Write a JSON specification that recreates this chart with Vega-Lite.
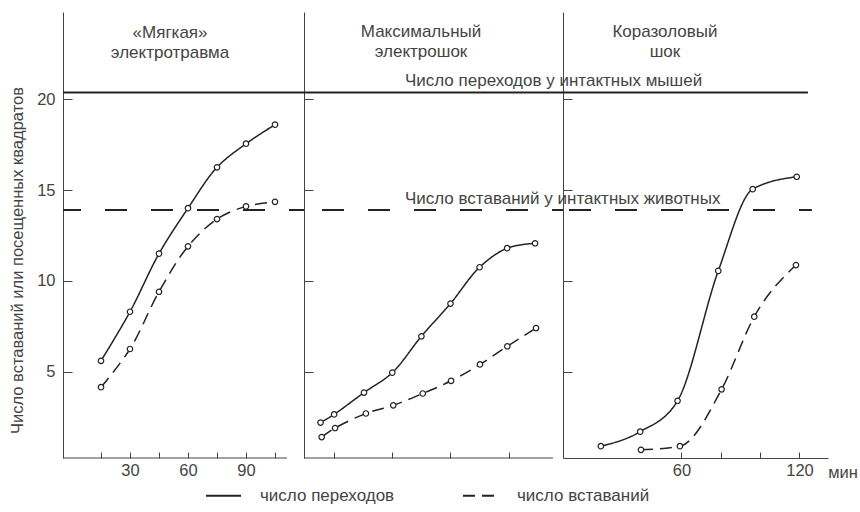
{
  "$schema": "https://vega.github.io/schema/vega-lite/v6.json",
  "padding": {"left": 9, "top": 12, "right": 0, "bottom": 0},
  "config": {
    "view": {"stroke": null},
    "font": "Liberation Sans",
    "axis": {"grid": false, "domainColor": "#444", "tickColor": "#444", "labelColor": "#444", "labelFont": "Liberation Sans", "labelFontSize": 16.5, "titleFont": "Liberation Sans", "titleFontWeight": "normal", "titleColor": "#444", "titleFontSize": 16.5, "domainWidth": 1, "tickWidth": 1},
    "text": {"font": "Liberation Sans", "fontSize": 17, "color": "#444"}
  },
  "datasets": {
    "pts": [
      {"panel": "A", "series": "число переходов", "t": 15, "v": 5.6},
      {"panel": "A", "series": "число переходов", "t": 30, "v": 8.3},
      {"panel": "A", "series": "число переходов", "t": 45, "v": 11.5},
      {"panel": "A", "series": "число переходов", "t": 60, "v": 14.0},
      {"panel": "A", "series": "число переходов", "t": 75, "v": 16.25},
      {"panel": "A", "series": "число переходов", "t": 90, "v": 17.55},
      {"panel": "A", "series": "число переходов", "t": 105, "v": 18.6},
      {"panel": "A", "series": "число вставаний", "t": 15, "v": 4.15},
      {"panel": "A", "series": "число вставаний", "t": 30, "v": 6.25},
      {"panel": "A", "series": "число вставаний", "t": 45, "v": 9.4},
      {"panel": "A", "series": "число вставаний", "t": 60, "v": 11.9},
      {"panel": "A", "series": "число вставаний", "t": 75, "v": 13.4},
      {"panel": "A", "series": "число вставаний", "t": 90, "v": 14.1},
      {"panel": "A", "series": "число вставаний", "t": 105, "v": 14.35},
      {"panel": "B", "series": "число переходов", "t": 8, "v": 2.2},
      {"panel": "B", "series": "число переходов", "t": 15, "v": 2.65},
      {"panel": "B", "series": "число переходов", "t": 30.4, "v": 3.85},
      {"panel": "B", "series": "число переходов", "t": 45, "v": 4.95},
      {"panel": "B", "series": "число переходов", "t": 60, "v": 6.95},
      {"panel": "B", "series": "число переходов", "t": 75, "v": 8.75},
      {"panel": "B", "series": "число переходов", "t": 90, "v": 10.75},
      {"panel": "B", "series": "число переходов", "t": 104.2, "v": 11.8},
      {"panel": "B", "series": "число переходов", "t": 118.6, "v": 12.07},
      {"panel": "B", "series": "число вставаний", "t": 8.6, "v": 1.4},
      {"panel": "B", "series": "число вставаний", "t": 15.5, "v": 1.9},
      {"panel": "B", "series": "число вставаний", "t": 31.4, "v": 2.7},
      {"panel": "B", "series": "число вставаний", "t": 45.5, "v": 3.15},
      {"panel": "B", "series": "число вставаний", "t": 60.7, "v": 3.8},
      {"panel": "B", "series": "число вставаний", "t": 75.3, "v": 4.5},
      {"panel": "B", "series": "число вставаний", "t": 90.2, "v": 5.4},
      {"panel": "B", "series": "число вставаний", "t": 104.3, "v": 6.4},
      {"panel": "B", "series": "число вставаний", "t": 119.1, "v": 7.4},
      {"panel": "C", "series": "число переходов", "t": 19, "v": 0.9},
      {"panel": "C", "series": "число переходов", "t": 39, "v": 1.7},
      {"panel": "C", "series": "число переходов", "t": 58, "v": 3.4},
      {"panel": "C", "series": "число переходов", "t": 78.7, "v": 10.55},
      {"panel": "C", "series": "число переходов", "t": 96.2, "v": 15.05},
      {"panel": "C", "series": "число переходов", "t": 118.6, "v": 15.73},
      {"panel": "C", "series": "число вставаний", "t": 39.4, "v": 0.7},
      {"panel": "C", "series": "число вставаний", "t": 59.2, "v": 0.9},
      {"panel": "C", "series": "число вставаний", "t": 80.4, "v": 4.03},
      {"panel": "C", "series": "число вставаний", "t": 97, "v": 8.03},
      {"panel": "C", "series": "число вставаний", "t": 118.2, "v": 10.87}
    ],
    "refs": [
      {"kind": "solid", "v": 20.37, "label": "Число переходов у интактных мышей"},
      {"kind": "dashed", "v": 13.9, "label": "Число вставаний у интактных животных"}
    ],
    "titles": [
      {"panel": "A", "title": "«Мягкая»\nэлектротравма"},
      {"panel": "B", "title": "Максимальный\nэлектрошок"},
      {"panel": "C", "title": "Коразоловый\nшок"}
    ]
  },
  "bounds": "flush",
  "spacing": 0,
  "resolve": {"scale": {"x": "independent", "y": "shared", "strokeDash": "shared"}, "legend": {"strokeDash": "shared"}},
  "hconcat": [
    {
      "width": 241, "height": 446,
      "layer": [
        {"data": {"name": "refs"}, "transform": [{"filter": "datum.kind == 'solid'"}], "mark": {"type": "rule", "color": "#222", "strokeWidth": 2}, "encoding": {"y": {"field": "v", "type": "quantitative"}}},
        {"data": {"name": "refs"}, "transform": [{"filter": "datum.kind == 'dashed'"}], "mark": {"type": "rule", "color": "#222", "strokeWidth": 2, "strokeDash": [22, 24], "strokeDashOffset": 7}, "encoding": {"y": {"field": "v", "type": "quantitative"}}},
        {"data": {"values": [{}]}, "mark": {"type": "rule", "color": "#444", "strokeWidth": 1}, "encoding": {"x": {"datum": -4.66}, "x2": {"datum": 111.2}, "y": {"datum": 0.25}}},
        {"data": {"name": "titles"}, "transform": [{"filter": "datum.panel == 'A'"}], "mark": {"type": "text", "align": "center", "baseline": "alphabetic", "lineBreak": "\n", "lineHeight": 19.5}, "encoding": {"x": {"datum": 50.7}, "y": {"datum": 23.35}, "text": {"field": "title"}}},
        {"data": {"name": "pts"}, "transform": [{"filter": "datum.panel == 'A'"}], "mark": {"type": "line", "interpolate": "catmull-rom", "color": "#222", "strokeWidth": 1.5},
         "encoding": {
           "x": {"field": "t", "type": "quantitative", "scale": {"domain": [-4.66, 120], "nice": false, "zero": false},
                 "axis": {"values": [15, 30, 45, 60, 75, 90, 105], "labelExpr": "datum.value % 30 == 0 ? datum.label : ''", "domain": false, "tickSize": -6, "labelPadding": 10, "title": null}},
           "y": {"field": "v", "type": "quantitative", "scale": {"domain": [0.25, 24.8], "nice": false, "zero": false},
                 "axis": {"values": [5, 10, 15, 20], "tickSize": -9, "labelPadding": 17, "title": "Число вставаний или посещенных квадратов", "titleX": -46, "titleY": 248, "titleAlign": "center", "titleBaseline": "middle", "titleAngle": -90}},
           "strokeDash": {"field": "series", "type": "nominal", "scale": {"domain": ["число переходов", "число вставаний"], "range": [[1, 0], [12, 7]]},
                 "legend": {"orient": "none", "legendX": 142, "legendY": 465, "direction": "horizontal", "title": null, "symbolType": "stroke", "symbolSize": 1225, "symbolStrokeWidth": 2, "symbolStrokeColor": "#222", "labelFontSize": 17, "labelColor": "#444", "labelFont": "Liberation Sans", "labelOffset": 18, "columnPadding": 64}}
         }},
        {"data": {"name": "pts"}, "transform": [{"filter": "datum.panel == 'A'"}], "mark": {"type": "point", "shape": "circle", "filled": true, "fill": "white", "stroke": "#222", "strokeWidth": 1.2, "size": 30, "opacity": 1},
         "encoding": {"x": {"field": "t", "type": "quantitative"}, "y": {"field": "v", "type": "quantitative"}}}
      ]
    },
    {
      "width": 259, "height": 446,
      "layer": [
        {"data": {"name": "refs"}, "transform": [{"filter": "datum.kind == 'solid'"}], "mark": {"type": "rule", "color": "#222", "strokeWidth": 2}, "encoding": {"y": {"field": "v", "type": "quantitative"}}},
        {"data": {"name": "refs"}, "transform": [{"filter": "datum.kind == 'dashed'"}], "mark": {"type": "rule", "color": "#222", "strokeWidth": 2, "strokeDash": [22, 24], "strokeDashOffset": 11}, "encoding": {"y": {"field": "v", "type": "quantitative"}}},
        {"data": {"name": "refs"}, "mark": {"type": "text", "align": "left", "baseline": "alphabetic", "dy": -6}, "encoding": {"x": {"datum": 51.5}, "y": {"field": "v", "type": "quantitative"}, "text": {"field": "label"}}},
        {"data": {"values": [{}]}, "mark": {"type": "rule", "color": "#444", "strokeWidth": 1}, "encoding": {"x": {"datum": -0.52}, "x2": {"datum": 127.8}, "y": {"datum": 0.25}}},
        {"data": {"name": "titles"}, "transform": [{"filter": "datum.panel == 'B'"}], "mark": {"type": "text", "align": "center", "baseline": "alphabetic", "lineBreak": "\n", "lineHeight": 19.5}, "encoding": {"x": {"datum": 59.8}, "y": {"datum": 23.4}, "text": {"field": "title"}}},
        {"data": {"name": "pts"}, "transform": [{"filter": "datum.panel == 'B'"}], "mark": {"type": "line", "interpolate": "catmull-rom", "color": "#222", "strokeWidth": 1.5},
         "encoding": {
           "x": {"field": "t", "type": "quantitative", "scale": {"domain": [-0.52, 133], "nice": false, "zero": false},
                 "axis": {"values": [15, 30, 45, 60, 75, 90, 105, 120], "labelExpr": "datum.value % 30 == 0 ? datum.label : ''", "domain": false, "tickSize": -6, "labelPadding": 10, "title": null}},
           "y": {"field": "v", "type": "quantitative", "scale": {"domain": [0.25, 24.8], "nice": false, "zero": false},
                 "axis": {"values": [5, 10, 15, 20], "tickSize": -9, "labels": false, "title": null}},
           "strokeDash": {"field": "series", "type": "nominal", "scale": {"domain": ["число переходов", "число вставаний"], "range": [[1, 0], [12, 7]]},
                 "legend": {"orient": "none", "legendX": 142, "legendY": 465, "direction": "horizontal", "title": null, "symbolType": "stroke", "symbolSize": 1225, "symbolStrokeWidth": 2, "symbolStrokeColor": "#222", "labelFontSize": 17, "labelColor": "#444", "labelFont": "Liberation Sans", "labelOffset": 18, "columnPadding": 64}}
         }},
        {"data": {"name": "pts"}, "transform": [{"filter": "datum.panel == 'B'"}], "mark": {"type": "point", "shape": "circle", "filled": true, "fill": "white", "stroke": "#222", "strokeWidth": 1.2, "size": 30, "opacity": 1},
         "encoding": {"x": {"field": "t", "type": "quantitative"}, "y": {"field": "v", "type": "quantitative"}}}
      ]
    },
    {
      "width": 265, "height": 446,
      "layer": [
        {"data": {"name": "refs"}, "transform": [{"filter": "datum.kind == 'solid'"}], "mark": {"type": "rule", "color": "#222", "strokeWidth": 2}, "encoding": {"y": {"field": "v", "type": "quantitative"}, "x": {"datum": -0.25}, "x2": {"datum": 124.3}}},
        {"data": {"name": "refs"}, "transform": [{"filter": "datum.kind == 'dashed'"}], "mark": {"type": "rule", "color": "#222", "strokeWidth": 2, "strokeDash": [22, 24], "strokeDashOffset": 40}, "encoding": {"y": {"field": "v", "type": "quantitative"}, "x": {"datum": -0.25}, "x2": {"datum": 126.3}}},
        {"data": {"name": "titles"}, "transform": [{"filter": "datum.panel == 'C'"}], "mark": {"type": "text", "align": "center", "baseline": "alphabetic", "lineBreak": "\n", "lineHeight": 19.5}, "encoding": {"x": {"datum": 51.6}, "y": {"datum": 23.4}, "text": {"field": "title"}}},
        {"data": {"name": "pts"}, "transform": [{"filter": "datum.panel == 'C'"}], "mark": {"type": "line", "interpolate": "monotone", "color": "#222", "strokeWidth": 1.5},
         "encoding": {
           "x": {"field": "t", "type": "quantitative", "scale": {"domain": [-0.25, 134.5], "nice": false, "zero": false},
                 "axis": {"values": [60, 80, 100, 120], "labelExpr": "datum.value == 60 || datum.value == 120 ? datum.label : ''", "domain": true, "tickSize": -6, "labelPadding": 10, "title": "мин", "titleX": 279.5, "titleY": 14, "titleAlign": "center", "titleBaseline": "middle"}},
           "y": {"field": "v", "type": "quantitative", "scale": {"domain": [0.25, 24.8], "nice": false, "zero": false},
                 "axis": {"values": [5, 10, 15, 20], "tickSize": -9, "labels": false, "title": null}},
           "strokeDash": {"field": "series", "type": "nominal", "scale": {"domain": ["число переходов", "число вставаний"], "range": [[1, 0], [12, 7]]},
                 "legend": {"orient": "none", "legendX": 142, "legendY": 465, "direction": "horizontal", "title": null, "symbolType": "stroke", "symbolSize": 1225, "symbolStrokeWidth": 2, "symbolStrokeColor": "#222", "labelFontSize": 17, "labelColor": "#444", "labelFont": "Liberation Sans", "labelOffset": 18, "columnPadding": 64}}
         }},
        {"data": {"name": "pts"}, "transform": [{"filter": "datum.panel == 'C'"}], "mark": {"type": "point", "shape": "circle", "filled": true, "fill": "white", "stroke": "#222", "strokeWidth": 1.2, "size": 30, "opacity": 1},
         "encoding": {"x": {"field": "t", "type": "quantitative"}, "y": {"field": "v", "type": "quantitative"}}}
      ]
    }
  ]
}
